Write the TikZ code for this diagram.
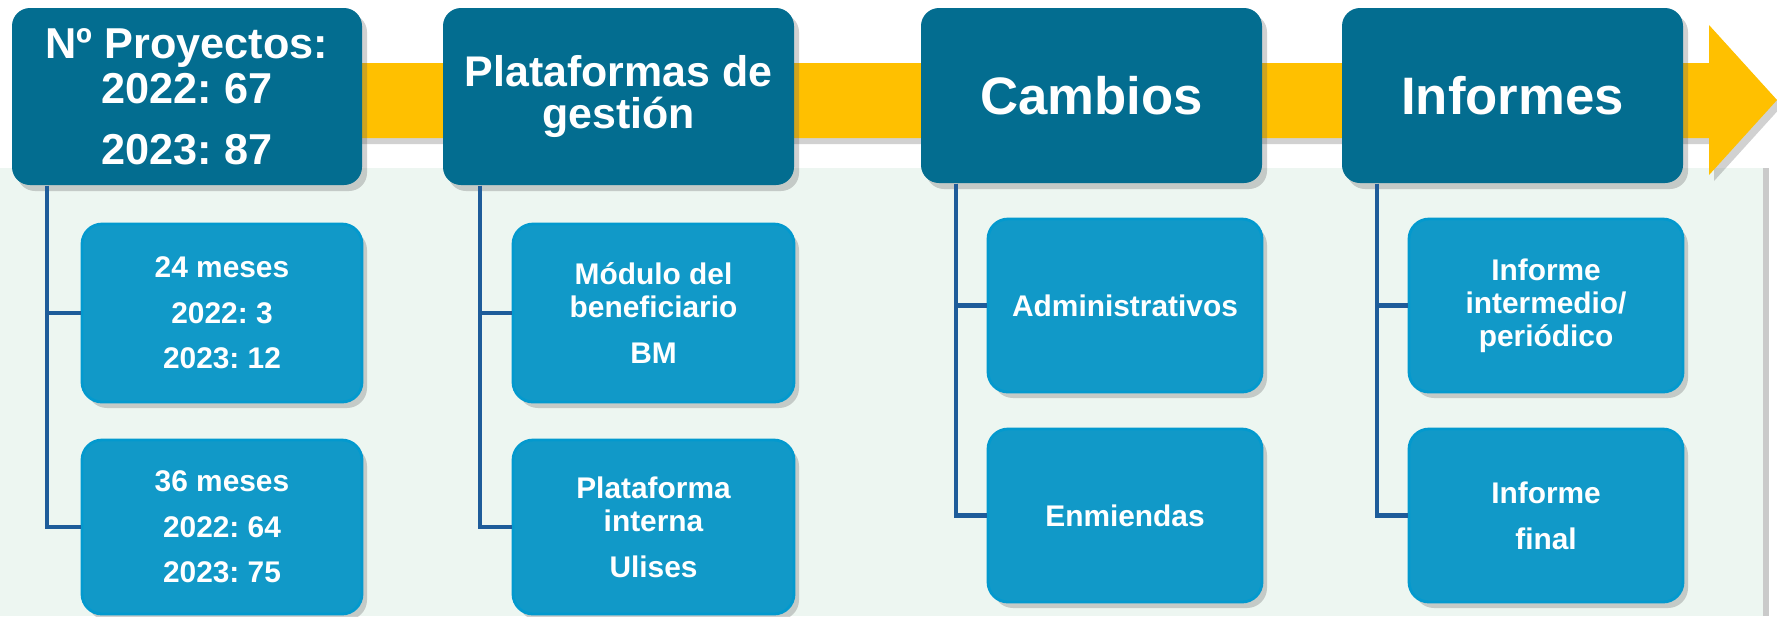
\documentclass[tikz,border=0pt]{standalone}
\usepackage{fontspec}
\setmainfont{Liberation Sans}
\usetikzlibrary{shadows}

\definecolor{etapa}{HTML}{036D90}
\definecolor{hoja}{HTML}{1199C8}
\definecolor{hojaborde}{HTML}{0399CE}
\definecolor{linea}{HTML}{1E5C9A}
\definecolor{fondo}{HTML}{EDF6F1}
\definecolor{flecha}{HTML}{FFC000}

\tikzset{
	sombra/.style={drop shadow={shadow xshift=0.5mm, shadow yshift=-0.6mm, opacity=0.3, fill=black!60}},
	etapabox/.style={rectangle, rounded corners=1.8mm, fill=etapa, text=white, align=center, inner sep=0pt, sombra},
	hojabox/.style={rectangle, rounded corners=2mm, fill=hoja, draw=hojaborde, line width=0.8pt, text=white, align=center, inner sep=0pt, font=\bfseries\fontsize{8.5}{9.4}\selectfont, sombra},
	ramal/.style={draw=linea, line width=1.2pt}
}

\begin{document}
\frenchspacing
\begin{tikzpicture}[x=0.1mm, y=-0.1mm]
	\useasboundingbox (0,0) rectangle (1777,616);
	% fondo y flecha
	\fill[fondo, drop shadow={shadow xshift=0.6mm, shadow yshift=0mm, opacity=0.35, fill=black!60}] (0,168) rectangle (1763,616);
	\fill[flecha, sombra] (187,63)--(1709,63)--(1709,25)--(1777,100)--(1709,175)--(1709,138)--(187,138)--cycle;

	% etapas
	\node[etapabox, minimum width=35mm, minimum height=17.7mm, font=\bfseries\fontsize{12.3}{12.8}\selectfont] (proy) at (187,96.5) {Nº Proyectos:\\2022: 67\\[4.6pt]2023: 87};
	\node[etapabox, minimum width=35.1mm, minimum height=17.7mm, font=\bfseries\fontsize{12.2}{12}\selectfont] (plat) at (618.5,96.5) {Plataformas de\\gestión};
	\node[etapabox, minimum width=34.1mm, minimum height=17.5mm, font=\bfseries\fontsize{15}{16}\selectfont] (camb) at (1091.5,95.5) {Cambios};
	\node[etapabox, minimum width=34.1mm, minimum height=17.5mm, font=\bfseries\fontsize{15}{16}\selectfont] (info) at (1512.5,95.5) {Informes};

	% hojas
	\node[hojabox, minimum width=28mm, minimum height=17.8mm] (proyA) at (222,313) {24 meses\\[3.6pt]2022: 3\\[3.6pt]2023: 12};
	\node[hojabox, minimum width=28mm, minimum height=17.4mm] (proyB) at (222,527) {36 meses\\[3.6pt]2022: 64\\[3.6pt]2023: 75};
	\node[hojabox, minimum width=28.1mm, minimum height=17.8mm] (platA) at (653.5,313) {Módulo del\\beneficiario\\[3.6pt]BM};
	\node[hojabox, minimum width=28.1mm, minimum height=17.4mm] (platB) at (653.5,527) {Plataforma\\interna\\[3.6pt]Ulises};
	\node[hojabox, minimum width=27.4mm, minimum height=17.3mm] (cambA) at (1125,305.5) {Administrativos};
	\node[hojabox, minimum width=27.4mm, minimum height=17.3mm] (cambB) at (1125,515.5) {Enmiendas};
	\node[hojabox, minimum width=27.4mm, minimum height=17.3mm] (infoA) at (1546,305.5) {Informe\\intermedio/\\periódico};
	\node[hojabox, minimum width=27.4mm, minimum height=17.3mm] (infoB) at (1546,515.5) {Informe\\[3.6pt]final};

	% ramas
	\foreach \e/\dx in {proy/3.6mm, plat/3.8mm, camb/3.6mm, info/3.6mm}{
		\draw[ramal] ([xshift=\dx]\e.south west) |- (\e A.west);
		\draw[ramal] ([xshift=\dx]\e.south west) |- (\e B.west);
	}
\end{tikzpicture}
\end{document}
